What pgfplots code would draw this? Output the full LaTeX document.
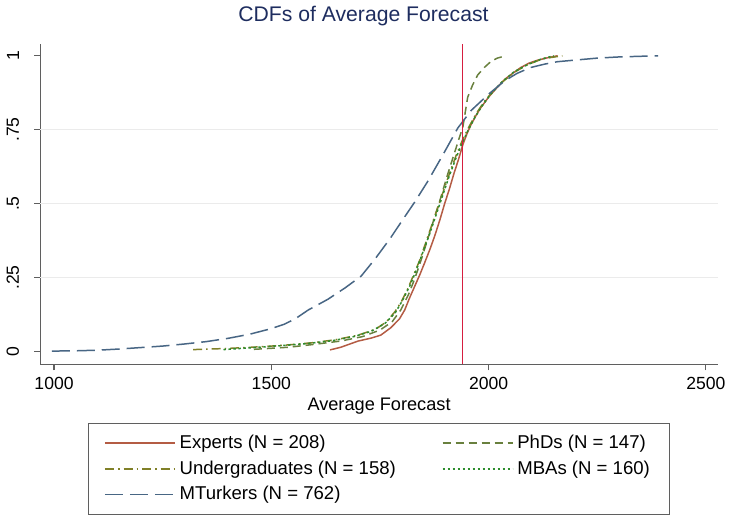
\documentclass[border=0pt]{standalone}
\usepackage{fontspec}
\setmainfont{Liberation Sans}
\usepackage{pgfplots}
\pgfplotsset{compat=1.18}

\definecolor{expc}{RGB}{180,92,68}
\definecolor{phdc}{RGB}{105,128,62}
\definecolor{ugc}{RGB}{128,128,40}
\definecolor{mbac}{RGB}{45,140,45}
\definecolor{mtc}{RGB}{72,102,132}
\definecolor{redl}{RGB}{214,30,64}
\definecolor{titlec}{RGB}{30,45,95}
\definecolor{axgray}{RGB}{95,95,95}

\begin{document}
\begin{tikzpicture}
\begin{axis}[
    scale only axis,
    width=339.5pt, height=160.5pt,
    xmin=968, xmax=2528,
    ymin=-0.044, ymax=1.04,
    axis x line*=bottom, axis y line*=left,
    axis line style={-, draw=axgray, line width=0.6pt},
    tick align=outside,
    major tick length=3pt,
    tick style={draw=axgray, line width=0.6pt},
    xtick={1000,1500,2000,2500},
    ytick={0,0.25,0.5,0.75,1},
    yticklabels={0,.25,.5,.75,1},
    extra y ticks={0.25,0.5,0.75},
    extra y tick labels={},
    extra y tick style={grid=major, major tick length=0pt},
    grid style={draw=black!8, line width=0.6pt},
    /pgf/number format/assume math mode=true,
    /pgf/number format/1000 sep={},
    ticklabel style={font=\fontsize{8.8}{10}\selectfont},
    yticklabel style={rotate=90, anchor=south},
    yticklabel shift=4pt,
    xlabel={Average Forecast},
    xlabel style={font=\fontsize{9.1}{10}\selectfont, yshift=3pt},
    title={CDFs of Average Forecast},
    title style={font=\fontsize{10.6}{12}\selectfont, color=titlec,
                 at={(0.477,1)}, anchor=base, yshift=5pt},
    legend style={at={(0.5,-0.183)}, anchor=north, draw=axgray,
                  font=\fontsize{9.3}{11}\selectfont,
                  /tikz/every even column/.append style={column sep=21pt},
                  inner xsep=8pt, inner ysep=3.5pt,
                  nodes={inner ysep=2.3pt}},
    legend columns=2,
    legend cell align=left,
    legend image code/.code={\draw[#1, line width=0.8pt] (0pt,0pt) -- (35pt,0pt);},
    every axis plot/.append style={line width=0.75pt},
]
% Experts
\addplot[draw=expc, solid] coordinates {
(1635,0.005) (1660,0.014) (1700,0.035) (1730,0.045) (1752,0.055) (1775,0.08)
(1795,0.11) (1807,0.14) (1818,0.18) (1830,0.22) (1842,0.26) (1853,0.30)
(1865,0.345) (1876,0.39) (1888,0.445) (1899,0.50) (1910,0.55) (1920,0.60)
(1931,0.65) (1941,0.70) (1950,0.735) (1959,0.765) (1970,0.795) (1980,0.82)
(1990,0.84) (2000,0.86) (2018,0.89) (2037,0.92) (2055,0.94) (2074,0.96)
(2093,0.975) (2113,0.985) (2135,0.993) (2159,1)
};
\addlegendentry{Experts (N = 208)}
% PhDs
\addplot[draw=phdc, dash pattern=on 4pt off 2.5pt] coordinates {
(1460,0.007) (1540,0.014) (1600,0.024) (1660,0.035) (1710,0.05) (1750,0.072)
(1778,0.10) (1798,0.14) (1815,0.19) (1830,0.245) (1845,0.31) (1860,0.38)
(1875,0.45) (1890,0.52) (1904,0.59) (1918,0.655) (1930,0.71) (1941,0.76)
(1952,0.86) (1963,0.90) (1975,0.935) (1990,0.96) (2005,0.98) (2020,0.992) (2040,1)
};
\addlegendentry{PhDs (N = 147)}
% Undergraduates
\addplot[draw=ugc, dash pattern=on 4.5pt off 2pt on 0.8pt off 2pt] coordinates {
(1320,0.006) (1400,0.01) (1480,0.016) (1540,0.022) (1600,0.03) (1650,0.04)
(1700,0.055) (1740,0.075) (1765,0.10) (1785,0.135) (1800,0.17) (1815,0.215)
(1828,0.26) (1842,0.31) (1856,0.37) (1870,0.43) (1884,0.49) (1898,0.55)
(1912,0.61) (1926,0.665) (1940,0.715) (1955,0.76) (1972,0.805) (1990,0.845)
(2010,0.88) (2035,0.915) (2060,0.945) (2090,0.97) (2125,0.99) (2170,1)
};
\addlegendentry{Undergraduates (N = 158)}
% MBAs
\addplot[draw=mbac, dash pattern=on 1.2pt off 1.3pt] coordinates {
(1390,0.006) (1450,0.012) (1520,0.019) (1580,0.026) (1640,0.036) (1690,0.05)
(1730,0.068) (1762,0.095) (1785,0.13) (1803,0.175) (1820,0.225) (1835,0.28)
(1850,0.34) (1865,0.40) (1880,0.465) (1895,0.53) (1910,0.595) (1924,0.65)
(1938,0.70) (1952,0.745) (1968,0.79) (1985,0.83) (2005,0.87) (2030,0.91)
(2058,0.945) (2090,0.97) (2120,0.988) (2150,1)
};
\addlegendentry{MBAs (N = 160)}
% MTurkers
\addplot[draw=mtc, dash pattern=on 9pt off 3.5pt] coordinates {
(995,0.001) (1050,0.002) (1100,0.004) (1150,0.008) (1200,0.013) (1250,0.018)
(1300,0.025) (1350,0.033) (1400,0.044) (1450,0.058) (1500,0.077) (1530,0.092)
(1555,0.11) (1585,0.14) (1610,0.16) (1630,0.176) (1670,0.215) (1707,0.255)
(1740,0.315) (1775,0.385) (1800,0.44) (1830,0.505) (1860,0.575) (1895,0.665)
(1929,0.755) (1960,0.815) (2000,0.87) (2037,0.915) (2065,0.94) (2096,0.96)
(2130,0.972) (2159,0.98) (2204,0.986) (2250,0.992) (2300,0.996) (2390,1)
};
\addlegendentry{MTurkers (N = 762)}
% actual value
\addplot[draw=redl, solid, line width=0.5pt, forget plot] coordinates {(1941,-0.044) (1941,1.04)};
\end{axis}
\end{tikzpicture}
\end{document}
